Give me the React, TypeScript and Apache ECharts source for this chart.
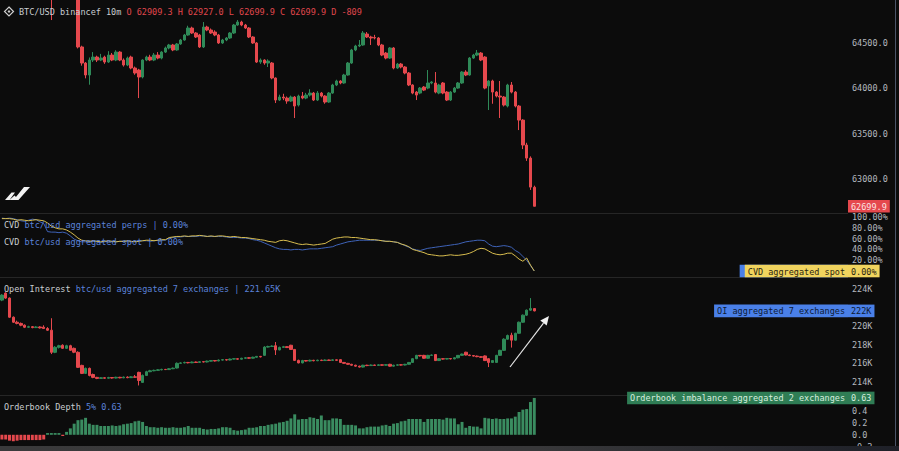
import React, { useEffect, useRef } from "react";
import * as echarts from "echarts";

// ---------- data ----------
const SLOT_COUNT = 223; // visible time slots on the shared x axis (data fills the first part)
const slots = Array.from({ length: SLOT_COUNT }, (_, i) => String(i));

// BTC/USD 10m candles: [open, close, low, high]
const priceCandles = [
  [65150,65200,65120,65230],[65200,65180,65150,65240],[65180,65230,65160,65260],[65230,65210,65190,65270],
  [65210,65150,65120,65240],[65150,65170,65110,65200],[65170,65120,65090,65190],[65120,65140,65080,65170],
  [65140,65090,65050,65160],[65090,65110,65040,65150],[65110,65070,65020,65130],[65070,65040,65000,65100],
  [65040,65060,64990,65090],[65060,65010,64753,65080],[65010,65050,64980,65080],[65050,65090,65020,65120],
  [65090,65060,65030,65130],[65060,65100,65040,65140],[65100,65070,65030,65130],[65070,65020,64990,65090],
  [65020,64456,64440,65060],[64456,64279,64250,64470],[64279,64147,64110,64290],[64147,64312,64040,64340],
  [64312,64345,64290,64400],[64345,64312,64290,64360],[64312,64334,64300,64380],[64345,64290,64270,64360],
  [64290,64367,64280,64410],[64367,64312,64300,64390],[64312,64400,64300,64420],[64400,64312,64300,64410],
  [64312,64257,64240,64330],[64257,64334,64245,64350],[64345,64224,64210,64360],[64224,64169,64150,64240],
  [64202,64125,63893,64215],[64125,64312,64110,64320],[64312,64345,64300,64360],[64345,64312,64300,64370],
  [64312,64367,64300,64390],[64367,64334,64320,64400],[64334,64400,64320,64410],[64400,64445,64390,64460],
  [64445,64478,64430,64490],[64478,64423,64410,64490],[64423,64489,64415,64500],[64489,64533,64480,64545],
  [64533,64588,64525,64600],[64588,64665,64580,64690],[64665,64610,64600,64680],[64610,64566,64555,64620],
  [64588,64456,64445,64600],[64456,64676,64445,64731],[64676,64643,64630,64690],[64643,64610,64600,64660],
  [64621,64588,64575,64640],[64588,64500,64490,64600],[64500,64533,64490,64545],[64533,64555,64520,64565],
  [64555,64610,64545,64620],[64610,64698,64600,64710],[64698,64731,64690,64753],[64731,64698,64685,64745],
  [64698,64665,64655,64710],[64665,64566,64555,64675],[64566,64500,64490,64575],[64500,64290,64280,64510],
  [64290,64312,64270,64330],[64312,64279,64260,64320],[64279,64301,64235,64320],[64279,64114,64100,64290],
  [64114,63871,63838,64120],[63871,63904,63860,63930],[63904,63893,63870,63940],[63893,63860,63830,63910],
  [63860,63904,63850,63920],[63904,63805,63673,63915],[63816,63915,63800,63930],[63915,63893,63880,63960],
  [63893,63926,63880,63950],[63926,63948,63910,63990],[63948,63871,63860,63960],[63871,63948,63860,63970],
  [63948,63915,63900,63960],[63915,63849,63830,63925],[63849,63948,63840,63960],[63948,64037,63940,64050],
  [64037,64081,64025,64095],[64081,64059,64045,64090],[64059,64147,64050,64160],[64147,64279,64140,64290],
  [64279,64423,64270,64435],[64423,64467,64410,64480],[64467,64478,64455,64533],[64478,64610,64470,64632],
  [64599,64566,64555,64621],[64566,64555,64478,64580],[64560,64555,64540,64590],[64555,64478,64465,64565],
  [64478,64367,64355,64490],[64389,64334,64320,64400],[64334,64445,64325,64455],[64445,64224,64210,64455],
  [64224,64268,64215,64280],[64268,64235,64220,64280],[64235,64169,64155,64245],[64169,64037,64025,64180],
  [64037,63948,63935,64045],[63959,63926,63871,63970],[63948,64003,63935,64015],[64014,63981,63970,64025],
  [64003,64059,63990,64202],[64059,64070,64045,64080],[64059,63959,63945,64180],[63948,64037,63935,64050],
  [64059,63948,63935,64070],[63959,63871,63860,63970],[63871,63959,63860,63970],[63959,64003,63950,64015],
  [64003,64059,63995,64070],[64059,64180,64050,64190],[64180,64147,64135,64200],[64147,64334,64140,64345],
  [64334,64367,64325,64380],[64367,64389,64355,64423],[64389,64312,64300,64400],[64345,64003,63990,64355],
  [64026,64081,63761,64090],[64081,63959,63830,64095],[63959,63915,63900,63970],[63915,63904,63673,64081],
  [63904,63816,63800,63915],[63805,64037,63790,64050],[64037,63959,63945,64070],[63959,63805,63790,63970],
  [63805,63650,63540,63816],[63650,63375,63330,63660],[63375,63231,63200,63400],[63231,62911,62880,63250],
  [62909.3,62699.9,62699.9,62927.0],
];

// Open interest (thousands), [open, close, low, high]
const oiCandles = [
  [222.81,223.35,222.7,223.45],[223.57,223.03,222.95,223.65],[223.03,220.97,220.9,223.1],[220.97,220.43,220.35,221.05],
  [220.43,220.3,220.2,220.6],[220.3,220.11,220.0,220.4],[220.11,219.89,219.8,220.2],[219.89,219.95,219.82,220.05],
  [219.95,219.85,219.78,220.02],[219.85,219.92,219.8,220.0],[219.92,219.82,219.75,220.0],[219.9,219.75,219.7,220.1],
  [219.75,219.57,219.5,219.9],[219.57,217.19,217.0,220.86],[217.19,217.73,217.1,217.85],[217.73,217.9,217.6,218.0],
  [217.95,217.62,217.55,218.05],[217.62,217.9,217.55,218.0],[217.9,217.41,217.35,218.0],[217.62,217.2,217.1,217.7],
  [217.19,215.57,215.5,217.3],[215.78,214.92,214.85,215.85],[214.92,215.46,214.85,215.55],[215.46,214.7,214.6,215.55],
  [214.8,214.49,214.4,214.9],[214.49,214.38,214.3,214.55],[214.38,214.45,214.33,214.52],[214.45,214.4,214.35,214.5],
  [214.4,214.47,214.35,214.55],[214.47,214.42,214.36,214.52],[214.42,214.5,214.38,214.56],[214.5,214.44,214.39,214.55],
  [214.44,214.52,214.4,214.58],[214.52,214.46,214.4,214.6],[214.46,214.55,214.42,214.62],[214.55,214.5,214.45,214.75],
  [215.03,214.16,213.62,215.1],[213.95,214.7,213.9,214.8],[214.7,215.1,214.65,215.2],[215.1,215.2,215.05,215.3],
  [215.2,215.25,215.15,215.32],[215.25,215.3,215.2,215.38],[215.3,215.35,215.25,215.42],[215.35,215.33,215.28,215.4],
  [215.33,215.42,215.3,215.5],[215.42,215.48,215.38,215.55],[215.5,216.0,215.45,216.1],[216.0,216.05,215.95,216.12],
  [216.05,216.1,216.0,216.18],[216.1,216.06,216.0,216.15],[216.06,216.14,216.02,216.2],[216.14,216.1,216.05,216.2],
  [216.1,216.18,216.06,216.24],[216.18,216.15,216.1,216.22],[216.15,216.24,216.1,216.3],[216.24,216.3,216.2,216.36],
  [216.3,216.26,216.2,216.35],[216.26,216.35,216.22,216.42],[216.35,216.4,216.3,216.46],[216.4,216.36,216.3,216.45],
  [216.36,216.46,216.32,216.52],[216.46,216.5,216.42,216.56],[216.5,216.45,216.4,216.55],[216.45,216.55,216.42,216.6],
  [216.55,216.6,216.5,216.66],[216.6,216.56,216.5,216.66],[216.56,216.66,216.52,216.72],[216.66,216.75,216.6,216.8],
  [216.75,216.7,216.64,216.8],[216.86,217.75,216.8,217.85],[217.75,217.82,217.7,217.9],[217.82,217.86,217.78,217.94],
  [217.9,217.45,216.9,218.3],[217.45,217.72,217.4,217.8],[217.72,217.8,217.66,217.88],[217.8,217.7,217.65,217.85],
  [217.95,217.5,217.45,218.0],[217.5,216.32,216.25,217.55],[216.32,216.05,216.0,216.4],[216.05,216.3,216.0,216.38],
  [216.3,216.25,216.2,216.36],[216.25,216.33,216.2,216.4],[216.33,216.28,216.22,216.38],[216.28,216.34,216.24,216.4],
  [216.34,216.3,216.25,216.4],[216.3,216.36,216.26,216.42],[216.36,216.32,216.27,216.4],[216.32,216.38,216.28,216.44],
  [216.38,216.33,216.28,216.42],[216.4,216.1,216.05,216.45],[216.1,216.0,215.95,216.15],[216.0,215.9,215.85,216.05],
  [215.9,215.8,215.75,215.95],[215.8,215.7,215.65,215.85],[215.7,215.6,215.55,215.75],[215.6,215.8,215.55,215.85],
  [215.8,215.76,215.7,215.85],[215.76,215.82,215.72,215.88],[215.82,215.78,215.72,215.86],[215.78,215.84,215.74,215.9],
  [215.84,215.8,215.75,215.88],[215.8,215.86,215.76,215.92],[215.9,215.7,215.65,215.95],[215.7,215.8,215.66,215.85],
  [215.8,215.84,215.76,215.9],[215.84,215.82,215.77,215.9],[215.82,215.9,215.78,215.95],[215.9,216.1,215.86,216.15],
  [216.1,216.5,216.05,216.55],[216.5,216.86,216.45,216.92],[216.86,216.8,216.74,216.9],[216.86,216.55,216.5,216.92],
  [216.55,216.86,216.5,216.92],[216.86,216.9,216.82,216.96],[216.95,216.3,216.25,217.0],[216.3,216.5,216.25,216.56],
  [216.5,216.46,216.4,216.55],[216.46,216.52,216.42,216.58],[216.52,216.48,216.42,216.56],[216.48,216.6,216.44,216.65],
  [216.6,216.86,216.55,216.9],[216.86,217.0,216.82,217.05],[217.2,216.9,216.85,217.25],[216.9,216.84,216.78,216.95],
  [216.84,216.78,216.72,216.9],[216.78,216.72,216.66,216.84],[216.72,216.65,216.6,216.78],[216.8,216.3,216.25,216.86],
  [216.5,216.1,215.6,216.55],[216.1,216.3,216.05,216.36],[216.1,216.86,216.05,216.92],[216.86,217.4,216.8,217.46],
  [217.4,218.6,217.35,218.7],[218.6,219.0,218.55,219.1],[219.03,218.5,217.7,219.3],[218.5,219.24,218.45,219.3],
  [219.24,220.43,219.2,220.5],[220.43,221.19,220.38,221.26],[221.19,221.73,221.1,221.8],[221.73,221.9,221.65,223.03],
  [221.9,221.65,221.6,221.95],
];

// CVD (normalised %, 0..100)
const cvdPerps = [
  98,97,98, 97,95,93,92,94,96,95,91,88, 73,72,72,71,72,70, 65,59,56,54,
  54,54,55,54,53,54,55,54,54,55,55,54,54,55,56,56,56,55,56,57,57,57,
  61,62,63,63,64,64,64,64,65,65,64,64,64,64,64,63,62,62,62,61,61,60,
  58,57,55,52,49,46,43,
  41,40,40,39,40,40,39,40,41,41,41,42,43,44,45,
  48,50,52,54,55,56,57,57,57,
  57,57,57,56,55,55,54,53,
  50,47,44,41,39,38,
  40,42,43,44,45,46,47,48,49,50,52,
  54,55,56,57,57,
  56,50,46,45,46,47,46,44,38,34,27,20,10,0,
];
const cvdSpot = [
  97,97,97, 96, 94,95,94,93,94,95,94,93,
  89,83,80,78,78,76,72,67,61,57,56,
  55,56,55,54,55,56,55,54,55,55,56,55,54,55,56,57,57,56,57,58,58,
  62,63,64,64,65,64,65,65,66,65,64,65,64,65,65,64,63,64,63,62,62,61,
  60,59,58,57,55,54,53,
  56,57,56,54,52,50,49,50,49,48,49,50,51,55,59,
  61,62,63,63,62,62,61,60,59,
  58,58,57,56,55,55,54,53,
  50,48,45,40,38,36,
  34,31,30,29,28,28,29,30,29,29,30,
  31,33,36,40,42,
  41,37,33,31,30,31,33,33,28,22,18,24,11,0,
];

// Orderbook depth imbalance (5%)
const obDepth = [
  -0.08,-0.08,-0.1,-0.11,-0.1,-0.09,-0.09,-0.09,-0.09,-0.09,-0.09,-0.08,
  0.03,0.03,0.03,0.03,-0.02,0.05,0.11,0.19,0.25,0.26,0.29,0.19,0.17,0.17,0.15,0.15,0.15,0.16,
  0.15,0.16,0.18,0.19,0.2,0.23,0.24,0.22,0.15,0.13,0.13,0.12,0.13,0.12,0.12,0.13,0.12,0.12,
  0.13,0.15,0.12,0.12,0.12,0.1,0.09,0.1,0.1,0.11,0.13,0.13,0.12,0.08,0.07,0.08,0.09,0.12,
  0.12,0.13,0.15,0.15,0.17,0.18,0.19,0.21,0.22,0.24,0.28,0.35,0.26,0.27,0.27,0.3,0.29,0.27,
  0.33,0.25,0.25,0.28,0.28,0.27,0.17,0.17,0.17,0.16,0.11,0.11,0.13,0.14,0.14,0.14,0.16,0.17,
  0.15,0.19,0.2,0.23,0.24,0.27,0.27,0.27,0.27,0.22,0.27,0.27,0.27,0.27,0.26,0.29,0.28,0.28,
  0.18,0.22,0.12,0.15,0.14,0.14,0.11,0.29,0.28,0.27,0.28,0.27,0.27,0.28,0.28,0.31,0.39,0.43,
  0.44,0.56,0.63,
];

// axis ranges and tick steps (min is a multiple of the step)
const priceAxis = { min: 62500, max: 64974, step: 500 };
const cvdAxis = { min: -20, max: 120, step: 20 };
const oiAxis = { min: 212, max: 226, step: 2 };
const obAxis = { min: -0.2, max: 0.8, step: 0.2 };

// ---------- style ----------
const BG = "#0c0c0c";
const GREEN = "#2f8a58";
const RED = "#e5484d";
const BLUE_TXT = "#5b82d9";
const GREY_TXT = "#c9ccd1";
const AXIS_TXT = "#b4b8bf";
const MONO = "'DejaVu Sans Mono', 'Liberation Mono', monospace";
const FS = 8.5;
const CW = FS * 0.602;
const PLOT_RIGHT = 848;

export default function App() {
  const ref = useRef<HTMLDivElement>(null);

  useEffect(() => {
    if (!ref.current) return;
    document.body.style.margin = "0";
    document.body.style.background = BG;
    const chart = echarts.init(ref.current, undefined, { renderer: "svg" });

    const lastPrice = priceCandles[priceCandles.length - 1];
    const lastOi = oiCandles[oiCandles.length - 1][1];
    const lastPerps = cvdPerps[cvdPerps.length - 1];
    const lastSpot = cvdSpot[cvdSpot.length - 1];
    const lastOb = obDepth[obDepth.length - 1];

    const axisLabelBase = { color: AXIS_TXT, fontFamily: MONO, fontSize: FS, margin: 4 };
    const yBase = {
      position: "right" as const,
      axisLine: { show: false },
      axisTick: { show: false },
      splitLine: { show: false },
    };
    const R = 899 - PLOT_RIGHT;
    const grids = [
      { left: 0, right: R, top: 0, height: 224.4 },
      { left: 0, right: R, top: 206.2, height: 75.6 },
      { left: 0, right: R, top: 270.5, height: 130 },
      { left: 0, right: R, top: 388, height: 60 },
    ];
    const candleStyle = {
      color: GREEN,
      color0: RED,
      borderColor: GREEN,
      borderColor0: RED,
      borderWidth: 1,
    };

    chart.setOption({
      animation: false,
      backgroundColor: BG,
      grid: grids,
      xAxis: grids.map((_, k) => ({
        type: "category",
        gridIndex: k,
        data: slots,
        show: false,
        boundaryGap: true,
      })),
      yAxis: [
        {
          ...yBase, gridIndex: 0, min: priceAxis.min, max: priceAxis.max, interval: priceAxis.step,
          axisLabel: { ...axisLabelBase, formatter: (v: number) => (v < 62800 || v > 64900 ? "" : v.toFixed(1)) },
        },
        {
          ...yBase, gridIndex: 1, min: cvdAxis.min, max: cvdAxis.max, interval: cvdAxis.step,
          axisLabel: { ...axisLabelBase, formatter: (v: number) => (v <= 0.5 || v > 100.5 ? "" : v.toFixed(2) + "%") },
        },
        {
          ...yBase, gridIndex: 2, min: oiAxis.min, max: oiAxis.max, interval: oiAxis.step,
          axisLabel: {
            ...axisLabelBase,
            formatter: (v: number) => (v < 213 || v > 225 || Math.abs(v - lastOi) < 1.2 ? "" : Math.round(v) + "K"),
          },
        },
        {
          ...yBase, gridIndex: 3, min: obAxis.min, max: obAxis.max, interval: obAxis.step,
          axisLabel: { ...axisLabelBase, formatter: (v: number) => (v > 0.5 ? "" : v.toFixed(1)) },
        },
      ],
      series: [
        {
          type: "candlestick", xAxisIndex: 0, yAxisIndex: 0, data: priceCandles,
          barWidth: 3, itemStyle: candleStyle, clip: true,
        },
        {
          type: "line", xAxisIndex: 1, yAxisIndex: 1, data: cvdPerps, showSymbol: false,
          lineStyle: { color: "#3f63b8", width: 1 }, clip: true,
        },
        {
          type: "line", xAxisIndex: 1, yAxisIndex: 1, data: cvdSpot, showSymbol: false,
          lineStyle: { color: "#d8bd4f", width: 1 }, clip: true,
        },
        {
          type: "candlestick", xAxisIndex: 2, yAxisIndex: 2, data: oiCandles,
          barWidth: 3, itemStyle: candleStyle, clip: true,
        },
        {
          type: "bar", xAxisIndex: 3, yAxisIndex: 3, barCategoryGap: "22%",
          data: obDepth.map((v) => ({ value: v, itemStyle: { color: v >= 0 ? "#3a8c60" : RED } })),
        },
      ],
    });

    // ----- overlays positioned through the chart's own scales -----
    const yOf = (axis: number, v: number) => chart.convertToPixel({ yAxisIndex: axis } as any, v) as number;

    const txt = (x: number, y: number, text: string, fill: string, extra: any = {}) => ({
      type: "text", z: 101, x, y,
      style: { text, fill, fontFamily: MONO, fontSize: FS, verticalAlign: "middle", align: "left", ...extra },
    });
    const rich = (x: number, y: number, a: string, b: string) => ({
      type: "text", z: 100, x, y,
      style: {
        text: `{a|${a}} {b|${b}}`,
        fontFamily: MONO, fontSize: FS, verticalAlign: "middle", align: "left",
        rich: {
          a: { fill: GREY_TXT, fontFamily: MONO, fontSize: FS },
          b: { fill: BLUE_TXT, fontFamily: MONO, fontSize: FS },
        },
      },
    });
    const boxRect = (x: number, y: number, w: number, bg: string) => ({
      type: "rect", z: 100, shape: { x, y: y - 6.3, width: w, height: 12.6 }, style: { fill: bg },
    });
    const boxLeft = (text: string, y: number, bg: string, fg: string, withText = true) => {
      const w = text.length * CW + 6;
      const out: any[] = [boxRect(PLOT_RIGHT - w, y, w, bg)];
      if (withText) out.push(txt(PLOT_RIGHT - w + 3, y + 0.5, text, fg));
      return out;
    };
    const boxAxis = (text: string, y: number, bg: string, fg: string, withText = true) => {
      const w = text.length * CW + 6;
      const out: any[] = [boxRect(PLOT_RIGHT, y, w, bg)];
      if (withText) out.push(txt(PLOT_RIGHT + 3, y + 0.5, text, fg));
      return out;
    };

    const yPrice = yOf(0, lastPrice[1]);
    const yPerps = yOf(1, lastPerps);
    const ySpot = yOf(1, lastSpot);
    const yOi = yOf(2, lastOi);
    const yOb = yOf(3, lastOb);

    echarts.graphic.registerShape(
      "velologo",
      echarts.graphic.extendPath(
        "M0 14 L6.5 6.5 L10 6.5 L4.5 14 Z M8.5 14 L19 1 L25 1 L13.5 14 Z M4.5 14 L9.5 9.5 L11.5 11.5 L8.5 14 Z",
        {}
      )
    );

    const header = `O ${lastPrice[0].toFixed(1)} H ${lastPrice[3].toFixed(1)} L ${lastPrice[2].toFixed(1)} C ${lastPrice[1].toFixed(1)} D -809`;

    const graphics: any[] = [
      // pane separators
      { type: "line", z: 90, shape: { x1: 0, y1: 213.5, x2: PLOT_RIGHT, y2: 213.5 }, style: { stroke: "#262626", lineWidth: 1 } },
      { type: "line", z: 90, shape: { x1: 0, y1: 277.5, x2: PLOT_RIGHT, y2: 277.5 }, style: { stroke: "#262626", lineWidth: 1 } },
      { type: "line", z: 90, shape: { x1: 0, y1: 395.5, x2: PLOT_RIGHT, y2: 395.5 }, style: { stroke: "#262626", lineWidth: 1 } },
      // right frame line
      { type: "line", z: 90, shape: { x1: 895.5, y1: 0, x2: 895.5, y2: 446 }, style: { stroke: "#4b5468", lineWidth: 1 } },
      // header icon
      { type: "polygon", z: 100, shape: { points: [[9, 7], [13.5, 11.5], [9, 16], [4.5, 11.5]] }, style: { fill: "none", stroke: "#d0d0d0", lineWidth: 1.2 } },
      { type: "polygon", z: 100, shape: { points: [[9, 10], [10.5, 11.5], [9, 13], [7.5, 11.5]] }, style: { fill: "#d0d0d0" } },
      {
        type: "text", z: 100, x: 19, y: 12,
        style: {
          text: `{a|BTC/USD binancef 10m} {b|${header}}`,
          fontFamily: MONO, fontSize: FS, verticalAlign: "middle", align: "left",
          rich: {
            a: { fill: GREY_TXT, fontFamily: MONO, fontSize: FS },
            b: { fill: "#e0474c", fontFamily: MONO, fontSize: FS },
          },
        },
      },
      // logo
      { type: "velologo", z: 100, x: 5, y: 186, scaleX: 1, scaleY: 1, style: { fill: "#f2f2f2" } },
      // pane titles
      rich(4, 225, "CVD", `btc/usd aggregated perps | ${lastPerps.toFixed(2)}%`),
      rich(4, 242, "CVD", `btc/usd aggregated spot | ${lastSpot.toFixed(2)}%`),
      rich(4, 289, "Open Interest", `btc/usd aggregated 7 exchanges | ${lastOi.toFixed(2)}K`),
      rich(4, 407, "Orderbook Depth", `5% ${lastOb.toFixed(2)}`),
      // arrow annotation
      { type: "line", z: 100, shape: { x1: 510, y1: 367, x2: 543.5, y2: 323.1 }, style: { stroke: "#e6e6e6", lineWidth: 1.2 } },
      { type: "polygon", z: 100, shape: { points: [[549, 316], [546.7, 325.6], [540.3, 320.6]] }, style: { fill: "#f0f0f0" } },
      // value boxes (perps box sits behind the spot box, only its edge shows)
      ...boxAxis(lastPrice[1].toFixed(1), yPrice, RED, "#fbe3e3"),
      ...boxLeft("CVD aggregated perps", yPerps, "#4a80e8", "#0e1a33", false),
      ...boxLeft("CVD aggregated spot", ySpot, "#f0d45e", "#2a2410"),
      ...boxAxis(lastSpot.toFixed(2) + "%", ySpot, "#f0d45e", "#2a2410"),
      ...boxLeft("OI aggregated 7 exchanges", yOi, "#4a80e8", "#0e1a33"),
      ...boxAxis(Math.round(lastOi) + "K", yOi, "#4a80e8", "#0e1a33"),
      ...boxLeft("Orderbook imbalance aggregated 2 exchanges", yOb, "#2f7d55", "#d6eedf"),
      ...boxAxis(lastOb.toFixed(2), yOb, "#2f7d55", "#d6eedf"),
      // bottom strip
      {
        type: "rect", z: 110, shape: { x: 0, y: 446, width: 899, height: 5 },
        style: {
          fill: new echarts.graphic.LinearGradient(0, 0, 1, 0, [
            { offset: 0, color: "#3a3a3b" },
            { offset: 0.6, color: "#38383a" },
            { offset: 1, color: "#1e2028" },
          ]),
        },
      },
    ];

    chart.setOption({ graphic: graphics });

    return () => chart.dispose();
  }, []);

  return (
    <div
      ref={ref}
      style={{ position: "fixed", left: 0, top: 0, width: 899, height: 451, background: BG }}
    />
  );
}
